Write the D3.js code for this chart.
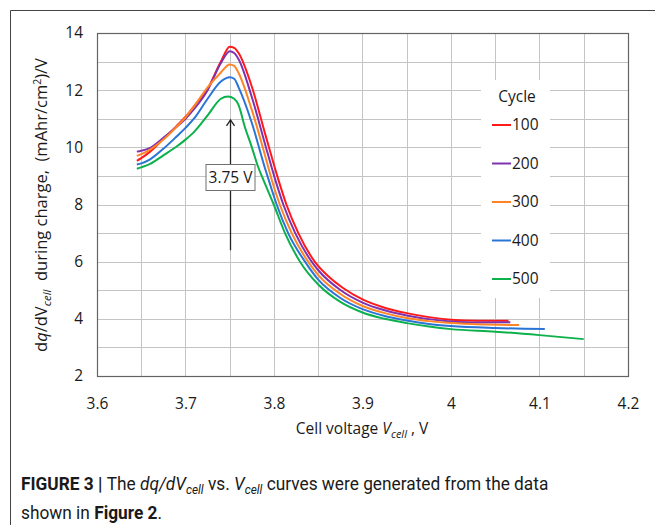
<!DOCTYPE html>
<html>
<head>
<meta charset="utf-8">
<script src="https://cdn.jsdelivr.net/npm/d3@7"></script>
<style>
  body { margin: 0; background: #fff; }
  svg text { font-family: "Open Sans", sans-serif; fill: #1a1a1a; }
  .cap text { font-family: "Roboto", sans-serif; }
</style>
</head>
<body>
<div id="chart"></div>
<script>
var width = 655;
var height = 525;

// cycle numbers and colours
var cycles = ['100', '200', '300', '400', '500'];
var colors = ['#ff1a1a', '#7f32b0', '#ff8426', '#2a74d6', '#0db14b'];

// voltage (V) and dq/dV, one pair of arrays per cycle
var v100 = [3.645, 3.65, 3.66, 3.675, 3.69, 3.70, 3.71, 3.725, 3.74, 3.75, 3.755, 3.76, 3.775, 3.79, 3.805, 3.814, 3.8275, 3.846, 3.862, 3.878, 3.90, 3.925, 3.95, 3.975, 4.00, 4.03, 4.065];
var q100 = [9.53, 9.62, 9.85, 10.3, 10.75, 11.07, 11.45, 12.05, 13.0, 13.52, 13.48, 13.3, 12.12, 10.47, 8.86, 8.0, 7.0, 6.0, 5.47, 5.08, 4.68, 4.39, 4.2, 4.06, 3.97, 3.93, 3.93];

var v200 = [3.645, 3.65, 3.66, 3.675, 3.69, 3.70, 3.71, 3.725, 3.74, 3.75, 3.755, 3.76, 3.775, 3.79, 3.8015, 3.8105, 3.824, 3.8425, 3.85, 3.875, 3.90, 3.925, 3.95, 3.975, 4.00, 4.03, 4.067];
var q200 = [9.85, 9.88, 9.98, 10.33, 10.72, 11.0, 11.35, 12.0, 12.95, 13.36, 13.3, 13.08, 11.75, 10.1, 8.86, 8.0, 7.0, 6.0, 5.70, 5.01, 4.57, 4.3, 4.12, 3.99, 3.91, 3.87, 3.88];

var v300 = [3.645, 3.65, 3.66, 3.675, 3.69, 3.70, 3.71, 3.725, 3.74, 3.75, 3.755, 3.76, 3.775, 3.79, 3.7975, 3.8065, 3.82, 3.8385, 3.85, 3.875, 3.90, 3.925, 3.95, 3.975, 4.00, 4.04, 4.077];
var q300 = [9.7, 9.76, 9.92, 10.27, 10.72, 11.05, 11.45, 12.1, 12.62, 12.9, 12.85, 12.6, 11.3, 9.7, 8.86, 8.0, 7.0, 6.0, 5.53, 4.87, 4.45, 4.2, 4.03, 3.92, 3.85, 3.8, 3.78];

var v400 = [3.645, 3.65, 3.66, 3.675, 3.69, 3.70, 3.71, 3.725, 3.74, 3.75, 3.755, 3.76, 3.775, 3.79, 3.794, 3.803, 3.816, 3.835, 3.85, 3.875, 3.90, 3.925, 3.95, 3.975, 4.00, 4.05, 4.106];
var q400 = [9.4, 9.44, 9.58, 9.95, 10.38, 10.68, 11.02, 11.7, 12.3, 12.45, 12.4, 12.1, 10.85, 9.25, 8.86, 8.0, 7.0, 6.0, 5.37, 4.73, 4.34, 4.1, 3.94, 3.82, 3.75, 3.68, 3.64];

var v500 = [3.645, 3.65, 3.66, 3.675, 3.69, 3.70, 3.71, 3.725, 3.74, 3.748, 3.755, 3.76, 3.767, 3.775, 3.782, 3.788, 3.7997, 3.8124, 3.8294, 3.85, 3.875, 3.90, 3.925, 3.95, 3.975, 4.00, 4.05, 4.10, 4.15];
var q500 = [9.25, 9.3, 9.42, 9.72, 10.03, 10.27, 10.55, 11.12, 11.7, 11.78, 11.7, 11.48, 10.72, 10.0, 9.32, 8.86, 8.0, 7.0, 6.0, 5.2, 4.59, 4.22, 4.0, 3.85, 3.73, 3.64, 3.55, 3.43, 3.29];

var xTicks = [3.6, 3.7, 3.8, 3.9, 4.0, 4.1, 4.2];
var yTicks = [2, 4, 6, 8, 10, 12, 14];
var peakV = 3.75;

var svg = d3.select('#chart').append('svg')
  .attr('width', width)
  .attr('height', height);

// figure frame
svg.append('path')
  .attr('d', 'M10.5,' + height + 'V10.5H' + width)
  .attr('fill', 'none')
  .attr('stroke', '#444')
  .attr('stroke-width', 1);

var padL = 97, padR = 628, padT = 33, padB = 376;

var xScale = d3.scaleLinear().domain([3.6, 4.2]).range([padL, padR]);
var yScale = d3.scaleLinear().domain([2, 14]).range([padB, padT]);

// grid
svg.append('g')
  .selectAll('line')
  .data(d3.range(3.65, 4.2, 0.05))
  .enter().append('line')
  .attr('x1', function(d) { return Math.round(xScale(d)) + 0.5; })
  .attr('x2', function(d) { return Math.round(xScale(d)) + 0.5; })
  .attr('y1', padT).attr('y2', padB)
  .attr('stroke', '#c4c4c4');

svg.append('g')
  .selectAll('line')
  .data(d3.range(3, 14, 1))
  .enter().append('line')
  .attr('y1', function(d) { return Math.round(yScale(d)) + 0.5; })
  .attr('y2', function(d) { return Math.round(yScale(d)) + 0.5; })
  .attr('x1', padL).attr('x2', padR)
  .attr('stroke', '#c4c4c4');

// legend box sits over the grid
var legX = 481, legY = 80;
svg.append('rect')
  .attr('x', legX).attr('y', legY)
  .attr('width', 69).attr('height', 218)
  .attr('fill', '#fff');

// plot frame
svg.append('rect')
  .attr('x', padL + 0.5).attr('y', padT + 0.5)
  .attr('width', padR - padL).attr('height', padB - padT)
  .attr('fill', 'none')
  .attr('stroke', '#636363')
  .attr('stroke-width', 1.2);

// axes
var xAxis = svg.append('g')
  .attr('transform', 'translate(0,' + padB + ')')
  .call(d3.axisBottom(xScale).tickValues(xTicks).tickSize(0).tickPadding(22)
    .tickFormat(function(d) { return String(+d.toFixed(1)); }));
xAxis.select('.domain').remove();
xAxis.selectAll('text').style('font-size', '15.5px').attr('fill', '#1a1a1a');

var yAxis = svg.append('g')
  .attr('transform', 'translate(' + padL + ',0)')
  .call(d3.axisLeft(yScale).tickValues(yTicks).tickSize(0).tickPadding(14));
yAxis.select('.domain').remove();
yAxis.selectAll('text').style('font-size', '15.5px').attr('fill', '#1a1a1a');

// curves
var series = [[v100, q100], [v200, q200], [v300, q300], [v400, q400], [v500, q500]];
var line = d3.line()
  .x(function(d) { return xScale(d[0]); })
  .y(function(d) { return yScale(d[1]); })
  .curve(d3.curveMonotoneX);

series.forEach(function(s, i) {
  svg.append('path')
    .datum(d3.zip(s[0], s[1]))
    .attr('d', line)
    .attr('fill', 'none')
    .attr('stroke', colors[i])
    .attr('stroke-width', 2);
});

// arrow annotation at the peak
var ax = Math.round(xScale(peakV)) + 0.5;
var tipY = yScale(10.96);
svg.append('line')
  .attr('x1', ax).attr('x2', ax)
  .attr('y1', yScale(6.4)).attr('y2', tipY)
  .attr('stroke', '#222').attr('stroke-width', 1.3);
svg.append('path')
  .attr('d', 'M' + (ax - 4) + ',' + (tipY + 6) + 'L' + ax + ',' + tipY + 'L' + (ax + 4) + ',' + (tipY + 6))
  .attr('fill', 'none').attr('stroke', '#222').attr('stroke-width', 1.3);
svg.append('rect')
  .attr('x', ax - 24.5).attr('y', 164.5)
  .attr('width', 49).attr('height', 26)
  .attr('fill', '#fff').attr('stroke', '#707070');
svg.append('text')
  .attr('x', ax).attr('y', 183)
  .attr('text-anchor', 'middle')
  .style('font-size', '15.5px')
  .text('3.75 V');

// legend
svg.append('text')
  .attr('x', 517).attr('y', 102)
  .attr('text-anchor', 'middle')
  .style('font-size', '15.5px')
  .text('Cycle');

var leg = svg.selectAll('.leg')
  .data(cycles)
  .enter().append('g').classed('leg', true)
  .attr('transform', function(d, i) { return 'translate(492,' + (125 + i * 38.5) + ')'; });
leg.append('line')
  .attr('x1', 0).attr('x2', 19)
  .attr('stroke', function(d, i) { return colors[i]; })
  .attr('stroke-width', 2);
leg.append('text')
  .attr('x', 20).attr('dy', '0.35em')
  .style('font-size', '15.5px')
  .text(function(d) { return d; });

// axis titles
var xt = svg.append('text')
  .attr('x', 362).attr('y', 434)
  .attr('text-anchor', 'middle')
  .style('font-size', '15.5px');
xt.append('tspan').text('Cell voltage ');
xt.append('tspan').style('font-style', 'italic').text('V');
xt.append('tspan').style('font-style', 'italic').style('font-size', '11px').attr('dy', 4).text('cell');
xt.append('tspan').attr('dy', -4).text(' , V');

var yt = svg.append('text')
  .attr('transform', 'translate(47,205) rotate(-90)')
  .attr('text-anchor', 'middle')
  .style('font-size', '16.5px');
yt.append('tspan').text('d');
yt.append('tspan').style('font-style', 'italic').text('q');
yt.append('tspan').text('/dV');
yt.append('tspan').style('font-style', 'italic').style('font-size', '11.5px').attr('dy', 4).text('cell');
yt.append('tspan').attr('dy', -4).text('\u00a0 during charge,\u00a0 (mAhr/cm');
yt.append('tspan').style('font-size', '10.5px').attr('dy', -6).text('2');
yt.append('tspan').attr('dy', 6).text(')/V');

// caption, squeezed to the condensed width of the original face
var cap = svg.append('g').classed('cap', true);
var c1 = cap.append('text').attr('transform', 'translate(21,490) scale(0.91,1)').style('font-size', '19px');
c1.append('tspan').style('font-weight', 'bold').text('FIGURE 3 | ');
c1.append('tspan').text('The ');
c1.append('tspan').style('font-style', 'italic').text('dq/dV');
c1.append('tspan').style('font-style', 'italic').style('font-size', '13px').attr('dy', 4).text('cell');
c1.append('tspan').attr('dy', -4).text(' vs. ');
c1.append('tspan').style('font-style', 'italic').text('V');
c1.append('tspan').style('font-style', 'italic').style('font-size', '13px').attr('dy', 4).text('cell');
c1.append('tspan').attr('dy', -4).text(' curves were generated from the data');

var c2 = cap.append('text').attr('transform', 'translate(21,519) scale(0.91,1)').style('font-size', '19px');
c2.append('tspan').text('shown in ');
c2.append('tspan').style('font-weight', 'bold').text('Figure 2');
c2.append('tspan').text('.');
</script>
</body>
</html>
